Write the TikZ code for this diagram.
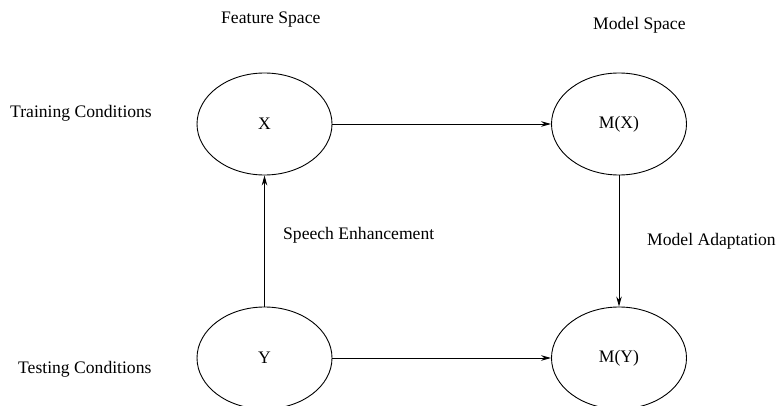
\documentclass[tikz,border=0pt]{standalone}
\usepackage{fontspec}
\setmainfont{Liberation Serif}
\usetikzlibrary{shapes.geometric,arrows.meta}
\begin{document}
\begin{tikzpicture}[x=1pt,y=-1pt,
  every node/.style={font=\fontsize{17.6}{21}\selectfont},
  state/.style={ellipse,draw,line width=0.9pt,minimum width=135pt,minimum height=102pt,inner sep=0pt},
  lab/.style={anchor=base west,inner sep=0pt},
  conn/.style={line width=0.9pt,-{Stealth[length=10pt,width=5.5pt]}}]
\useasboundingbox (0,0) rectangle (776,406);
\node[state] (X) at (264.5,124) {X};
\node[state] (MX) at (619,124) {M(X)};
\node[state] (Y) at (264.5,358) {Y};
\node[state] (MY) at (619,358) {M(Y)};
\draw[conn] (X.east) -- (MX.west);
\draw[conn] (Y.north) -- (X.south);
\draw[conn] (MX.south) -- (MY.north);
\draw[conn] (Y.east) -- (MY.west);
\node[lab] (fs) at (221,24) {Feature Space};
\node[lab] (ms) at (593,30) {Model Space};
\node[lab] (tc) at (10,118) {Training Conditions};
\node[lab] (tec) at (18,373) {Testing Conditions};
\node[lab] (se) at (283,239) {Speech Enhancement};
\node[lab] (ma) at (647,245) {Model Adaptation};
\end{tikzpicture}
\end{document}
